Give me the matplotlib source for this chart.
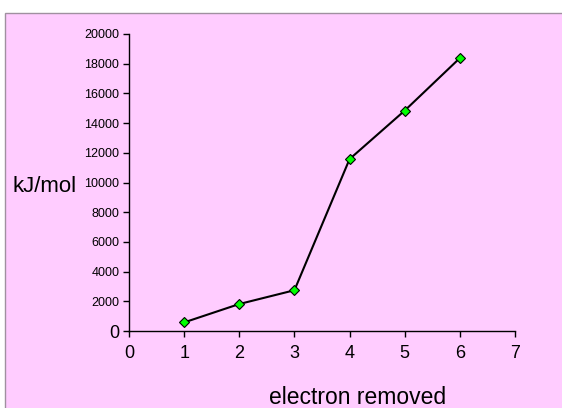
import matplotlib
matplotlib.use('Agg')
import matplotlib.pyplot as plt
from matplotlib.patches import Rectangle

electrons = [1, 2, 3, 4, 5, 6]
energies = [578, 1817, 2745, 11577, 14842, 18379]
y_ticks = list(range(0, 20001, 2000))
x_ticks = list(range(0, 8))

fig = plt.figure(figsize=(5.62, 4.08), dpi=100)
fig.patch.set_facecolor('white')

# pink chart area with thin border
bg = Rectangle((5 / 562, -0.01), 1.0, (408 - 13) / 408 + 0.01, transform=fig.transFigure,
               facecolor='#FFCCFF', edgecolor='#A090A0', linewidth=1.0, zorder=-10)
fig.add_artist(bg)

ax = fig.add_axes([129 / 562, 77 / 408, 386 / 562, 297 / 408])
ax.set_facecolor('none')

ax.plot(electrons, energies, color='black', linewidth=1.5, marker='D',
        markersize=5.5, markerfacecolor='#00FF00', markeredgecolor='black',
        markeredgewidth=0.8, clip_on=False, zorder=3)

ax.set_xlim(0, 7)
ax.set_ylim(0, 20000)
ax.set_xticks(x_ticks)
ax.set_yticks(y_ticks)
ax.set_xticklabels([str(v) for v in x_ticks], fontsize=13, family='Liberation Sans')
ax.set_yticklabels([str(v) for v in y_ticks], fontsize=9, family='Liberation Sans')
# Excel draws the zero label at the larger size
ax.get_yticklabels()[0].set_fontsize(13)

ax.spines['top'].set_visible(False)
ax.spines['right'].set_visible(False)
ax.spines['left'].set_linewidth(1.0)
ax.spines['bottom'].set_linewidth(1.0)
ax.tick_params(axis='y', direction='out', length=4, width=1, pad=3)
ax.tick_params(axis='x', direction='out', length=4, width=1, pad=6)

fig.text(12 / 562, 1 - 187 / 408, 'kJ/mol', fontsize=16, family='Liberation Sans',
         va='center', ha='left')
fig.text(358 / 562, 1 - 397 / 408, 'electron removed', fontsize=16.5, family='Liberation Sans',
         va='center', ha='center')

fig.savefig('out.png', dpi=100)
